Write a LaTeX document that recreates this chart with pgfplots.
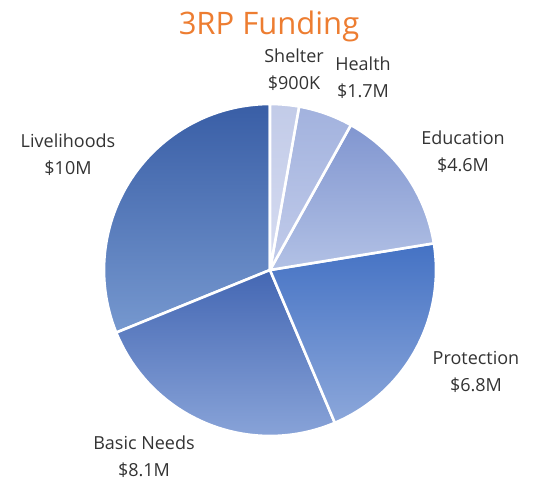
\documentclass[border=0pt]{standalone}
\usepackage{pgfplots}
\pgfplotsset{compat=1.18}
\usepackage{fontspec}
\setmainfont{Open Sans}
\definecolor{titleorange}{HTML}{ED7D31}
\definecolor{labelgray}{HTML}{333333}
% slice colours (top / bottom of gradient)
\definecolor{shT}{HTML}{C2CBE8}\definecolor{shB}{HTML}{D6DCF1}
\definecolor{heT}{HTML}{A2B2DE}\definecolor{heB}{HTML}{C2CCEA}
\definecolor{edT}{HTML}{8196D0}\definecolor{edB}{HTML}{B2C1E5}
\definecolor{prT}{HTML}{4472C4}\definecolor{prB}{HTML}{8CA7DA}
\definecolor{bnT}{HTML}{4467B3}\definecolor{bnB}{HTML}{88A3D8}
\definecolor{liT}{HTML}{395EA6}\definecolor{liB}{HTML}{7698CF}
% data (millions of dollars)
\def\vShelter{0.9}
\def\vHealth{1.7}
\def\vEducation{4.6}
\def\vProtection{6.8}
\def\vBasic{8.1}
\def\vLivelihoods{10}
\pgfmathsetmacro{\tot}{\vShelter+\vHealth+\vEducation+\vProtection+\vBasic+\vLivelihoods}
\pgfmathsetmacro{\aA}{90}
\pgfmathsetmacro{\aB}{\aA-360*\vShelter/\tot}
\pgfmathsetmacro{\aC}{\aB-360*\vHealth/\tot}
\pgfmathsetmacro{\aD}{\aC-360*\vEducation/\tot}
\pgfmathsetmacro{\aE}{\aD-360*\vProtection/\tot}
\pgfmathsetmacro{\aF}{\aE-360*\vBasic/\tot}
\pgfmathsetmacro{\aG}{\aF-360*\vLivelihoods/\tot}
\def\cx{270}\def\cy{213}\def\rr{166}
\begin{document}
\begin{tikzpicture}
\useasboundingbox (0,0) rectangle (534pt,483pt);
\begin{axis}[
  at={(0,0)}, anchor=south west,
  scale only axis, width=534pt, height=483pt,
  xmin=0, xmax=534, ymin=0, ymax=483,
  axis lines=none, clip=false,
  every axis plot/.append style={draw=white, line width=2.6pt, line join=round, samples=80, smooth},
]
\addplot[top color=liT, bottom color=liB, domain=\aG:\aF] ({\cx+\rr*cos(x)},{\cy+\rr*sin(x)}) -- (axis cs:\cx,\cy) -- cycle;
\addplot[top color=bnT, bottom color=bnB, domain=\aF:\aE] ({\cx+\rr*cos(x)},{\cy+\rr*sin(x)}) -- (axis cs:\cx,\cy) -- cycle;
\addplot[top color=prT, bottom color=prB, domain=\aE:\aD] ({\cx+\rr*cos(x)},{\cy+\rr*sin(x)}) -- (axis cs:\cx,\cy) -- cycle;
\addplot[top color=edT, bottom color=edB, domain=\aD:\aC] ({\cx+\rr*cos(x)},{\cy+\rr*sin(x)}) -- (axis cs:\cx,\cy) -- cycle;
\addplot[top color=heT, bottom color=heB, domain=\aC:\aB] ({\cx+\rr*cos(x)},{\cy+\rr*sin(x)}) -- (axis cs:\cx,\cy) -- cycle;
\addplot[top color=shT, bottom color=shB, domain=\aB:\aA] ({\cx+\rr*cos(x)},{\cy+\rr*sin(x)}) -- (axis cs:\cx,\cy) -- cycle;

\node[text=titleorange, font=\fontsize{31}{35}\selectfont] at (axis cs:269,457) {3RP Funding};
\begin{scope}[every node/.style={text=labelgray, align=center, font=\fontsize{18}{27}\selectfont}]
\node at (axis cs:294,413) {Shelter\\\$900K};
\node at (axis cs:363,405) {Health\\\$1.7M};
\node at (axis cs:463,331) {Education\\\$4.6M};
\node at (axis cs:476,111) {Protection\\\$6.8M};
\node at (axis cs:144,26) {Basic Needs\\\$8.1M};
\node at (axis cs:68,328) {Livelihoods\\\$10M};
\end{scope}
\end{axis}
\end{tikzpicture}
\end{document}
